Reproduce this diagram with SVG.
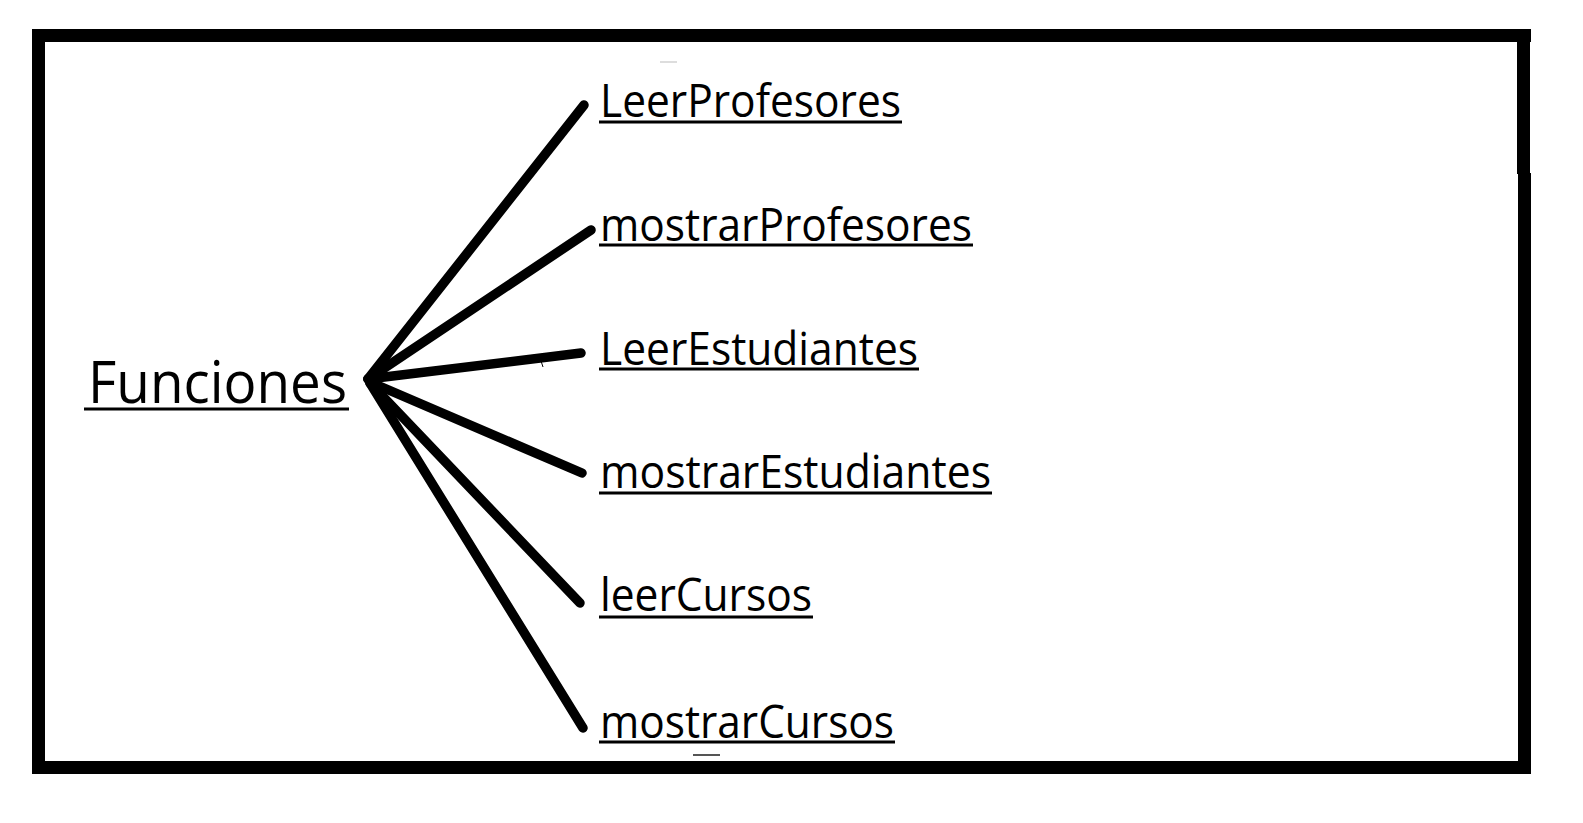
<svg xmlns="http://www.w3.org/2000/svg" width="1583" height="823" viewBox="0 0 1583 823">
<style>
.lbl{font-family:"Open Sans","Noto Sans","Liberation Sans",sans-serif;font-size:46px;fill:#000}
.root{font-family:"Open Sans","Noto Sans","Liberation Sans",sans-serif;font-size:58px;fill:#000}
.ul{stroke:#000;stroke-width:3}
.conn{stroke:#000;stroke-width:9.5;stroke-linecap:round;fill:none}
.frame{fill:#000}
</style>
<rect width="1583" height="823" fill="#fff"/>
<g id="frame">
<rect class="frame" x="32" y="29" width="1499" height="13"/>
<rect class="frame" x="32" y="29" width="13" height="745"/>
<rect class="frame" x="32" y="761" width="1499" height="13"/>
<rect class="frame" x="1517" y="29" width="13" height="145"/>
<rect class="frame" x="1518" y="173" width="13" height="601"/>
<line x1="660" y1="62" x2="677" y2="62" stroke="#ddd" stroke-width="2"/>
<line x1="693" y1="755" x2="720" y2="755" stroke="#555" stroke-width="2"/>
</g>
<g id="connectors">
<line class="conn" x1="368" y1="379" x2="584" y2="105"/>
<line class="conn" x1="368" y1="379" x2="591" y2="230"/>
<line class="conn" x1="368" y1="379" x2="581" y2="353"/>
<line class="conn" x1="370" y1="382" x2="582" y2="473"/>
<line class="conn" x1="370" y1="383" x2="580" y2="603"/>
<line class="conn" x1="370" y1="383" x2="583" y2="728"/>
<line x1="541" y1="361" x2="543" y2="367" stroke="#000" stroke-width="1"/>
</g>
<g id="node-funciones">
<text class="root" x="88" y="403" textLength="259" lengthAdjust="spacingAndGlyphs">Funciones</text>
<line class="ul" x1="84" y1="409" x2="349" y2="409"/>
</g>
<g id="node-leerprofesores">
<text class="lbl" x="600" y="117" textLength="301" lengthAdjust="spacingAndGlyphs">LeerProfesores</text>
<line class="ul" x1="599" y1="122" x2="902" y2="122"/>
</g>
<g id="node-mostrarprofesores">
<text class="lbl" x="600" y="241" textLength="372" lengthAdjust="spacingAndGlyphs">mostrarProfesores</text>
<line class="ul" x1="599" y1="245" x2="973" y2="245"/>
</g>
<g id="node-leerestudiantes">
<text class="lbl" x="600" y="365" textLength="318" lengthAdjust="spacingAndGlyphs">LeerEstudiantes</text>
<line class="ul" x1="599" y1="369" x2="919" y2="369"/>
</g>
<g id="node-mostrarestudiantes">
<text class="lbl" x="600" y="488" textLength="391" lengthAdjust="spacingAndGlyphs">mostrarEstudiantes</text>
<line class="ul" x1="599" y1="493" x2="992" y2="493"/>
</g>
<g id="node-leercursos">
<text class="lbl" x="600" y="611" textLength="212" lengthAdjust="spacingAndGlyphs">leerCursos</text>
<line class="ul" x1="599" y1="617" x2="813" y2="617"/>
</g>
<g id="node-mostrarcursos">
<text class="lbl" x="600" y="738" textLength="294" lengthAdjust="spacingAndGlyphs">mostrarCursos</text>
<line class="ul" x1="599" y1="742" x2="895" y2="742"/>
</g>
</svg>
